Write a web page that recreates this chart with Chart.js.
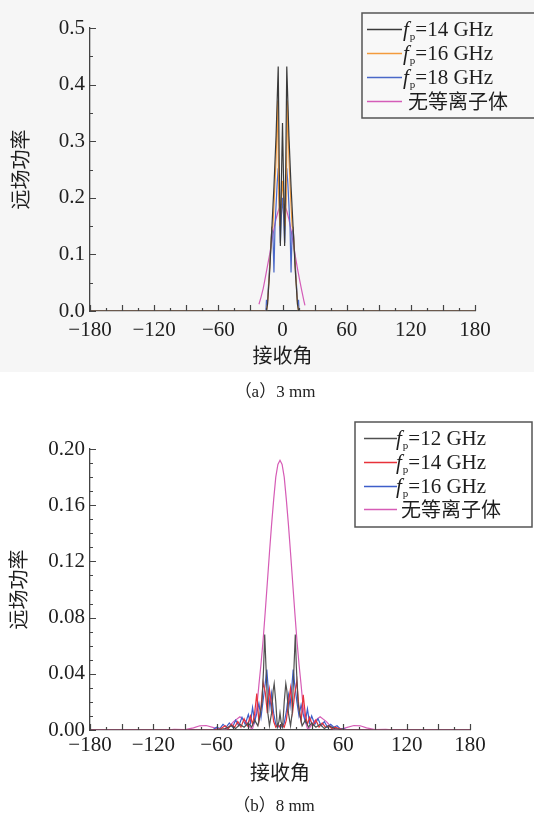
<!DOCTYPE html>
<html lang="zh">
<head>
<meta charset="utf-8">
<title>远场功率与接收角</title>
<script src="https://cdn.jsdelivr.net/npm/chart.js@4.4.1/dist/chart.umd.min.js"></script>
<style>
  html, body { margin: 0; padding: 0; background: #fff; }
  body { width: 534px; height: 816px; position: relative; overflow: hidden; }
  .panel { position: absolute; left: 0; width: 534px; }
  #panelA { top: 0; height: 372px; background: #f6f6f6; }
  #panelB { top: 400px; height: 416px; }
  .caption {
    position: absolute; width: 534px; text-align: center;
    font: 17px "Liberation Serif", "Noto Sans CJK SC", serif; color: #222;
  }
</style>
</head>
<body>
<div class="panel" id="panelA"><canvas id="chart3mm" width="534" height="372"></canvas></div>
<div class="panel" id="panelB"><canvas id="chart8mm" width="534" height="416"></canvas></div>
<div class="caption" style="left:8px; top:377px;">（a）3 mm</div>
<div class="caption" style="left:7px; top:791px;">（b）8 mm</div>

<script>
// ---- (a) 3 mm ----
const blk3Angle = [-180, -15, -14, -12, -10, -8, -6, -4, -3, -2, -1, 0, 1, 2, 3, 4, 6, 8, 10, 12, 14, 15, 180];
const blk3Power = [0, 0, 0.012, 0.07, 0.145, 0.22, 0.31, 0.432, 0.25, 0.115, 0.23, 0.332, 0.23, 0.115, 0.25, 0.432, 0.31, 0.22, 0.145, 0.07, 0.012, 0, 0];

const org3Angle = [-180, -15, -14, -12, -10, -9, -8, -6, -4.5, -3.5, -2.5, -1, 0, 1, 2.5, 3.5, 4.5, 6, 8, 9, 10, 12, 14, 15, 180];
const org3Power = [0, 0, 0.012, 0.075, 0.145, 0.15, 0.185, 0.27, 0.372, 0.2, 0.15, 0.2, 0.23, 0.2, 0.15, 0.2, 0.372, 0.27, 0.185, 0.15, 0.145, 0.075, 0.012, 0, 0];

const blu3Angle = [-180, -15.5, -15, -14.5, -14, -12, -10, -9, -8, -7, -5, -4, -3, -2, -1, 0, 1, 2, 3, 4, 5, 7, 8, 9, 10, 12, 14, 14.5, 15, 15.5, 180];
const blu3Power = [0, 0, 0.02, 0.01, 0.018, 0.08, 0.145, 0.14, 0.068, 0.15, 0.225, 0.252, 0.19, 0.12, 0.17, 0.2, 0.17, 0.12, 0.19, 0.252, 0.225, 0.15, 0.068, 0.14, 0.145, 0.08, 0.018, 0.01, 0.02, 0, 0];

const pk3Angle = [-22, -20, -18, -16, -14, -12, -10, -8, -6, -4, -2, 0, 2, 4, 6, 8, 10, 12, 14, 16, 18, 20, 21];
const pk3Power = [0.012, 0.025, 0.04, 0.06, 0.08, 0.1, 0.123, 0.145, 0.163, 0.177, 0.187, 0.19, 0.187, 0.177, 0.162, 0.143, 0.12, 0.097, 0.075, 0.055, 0.036, 0.018, 0.01];

// ---- (b) 8 mm ----
const blk8Angle = [-180, -60, -52, -46, -42, -38, -34, -30, -27, -24, -21, -19, -17, -15.5, -14.5, -13, -11.5, -10, -8, -6.5, -5.5, -4, -2.5, -1,
  0, 1, 2.5, 4, 5.5, 6.5, 8, 10, 11.5, 13, 14.5, 15.5, 17, 19, 21, 24, 27, 30, 34, 38, 42, 46, 52, 60, 180];
const blk8Power = [0, 0, 0.001, 0.003, 0.001, 0.004, 0.002, 0.005, 0.002, 0.007, 0.003, 0.01, 0.02, 0.045, 0.068, 0.04, 0.012, 0.003, 0.012, 0.028, 0.033, 0.02, 0.002, 0.006,
  0.012, 0.006, 0.002, 0.02, 0.033, 0.028, 0.012, 0.003, 0.012, 0.04, 0.068, 0.045, 0.02, 0.01, 0.003, 0.007, 0.002, 0.005, 0.002, 0.004, 0.001, 0.003, 0.001, 0, 0];

const red8Angle = [-180, -62, -56, -52, -49, -46, -43, -40, -37, -34, -31, -28, -26, -24, -22, -20, -18, -16, -14, -12, -10, -8, -6, -4, -2,
  0, 2, 4, 6, 8, 10, 12, 14, 16, 18, 20, 22, 24, 26, 28, 31, 34, 37, 40, 43, 46, 49, 52, 56, 62, 180];
const red8Power = [0, 0, 0.001, 0.003, 0.001, 0.004, 0.002, 0.006, 0.002, 0.008, 0.003, 0.01, 0.004, 0.012, 0.026, 0.006, 0.016, 0.034, 0.027, 0.012, 0.029, 0.018, 0.006, 0.002, 0.004,
  0.002, 0.004, 0.002, 0.007, 0.019, 0.03, 0.013, 0.026, 0.035, 0.015, 0.006, 0.025, 0.011, 0.004, 0.009, 0.003, 0.007, 0.002, 0.005, 0.002, 0.003, 0.001, 0.002, 0.001, 0, 0];

const blu8Angle = [-180, -64, -60, -57, -54, -51, -48, -45, -42, -39, -36, -33, -30, -28, -26, -24, -22, -20, -18, -16, -14, -12.5, -11, -9.5, -8, -6, -4, -2,
  0, 2, 4, 6, 8, 9.5, 11, 12.5, 14, 16, 18, 20, 22, 24, 26, 28, 30, 33, 36, 39, 42, 45, 48, 51, 54, 57, 60, 64, 180];
const blu8Power = [0, 0, 0.002, 0.001, 0.004, 0.002, 0.005, 0.002, 0.007, 0.003, 0.009, 0.004, 0.011, 0.005, 0.016, 0.006, 0.012, 0.019, 0.009, 0.021, 0.033, 0.043, 0.028, 0.016, 0.026, 0.012, 0.004, 0.002,
  0.003, 0.002, 0.005, 0.013, 0.025, 0.017, 0.029, 0.043, 0.032, 0.02, 0.01, 0.018, 0.011, 0.006, 0.015, 0.005, 0.01, 0.004, 0.008, 0.003, 0.006, 0.002, 0.004, 0.002, 0.003, 0.001, 0.001, 0, 0];

const pk8Angle = [-180, -110, -100, -90, -82, -76, -70, -62, -56, -50, -44, -38, -32, -28, -26, -24, -22, -20, -18, -16, -14, -12, -10, -8, -6, -4, -2,
  0, 2, 4, 6, 8, 10, 12, 14, 16, 18, 20, 22, 24, 26, 28, 32, 38, 44, 50, 56, 62, 70, 76, 82, 90, 100, 110, 180];
const pk8Power = [0, 0, 0.0005, 0.0003, 0.0015, 0.003, 0.0032, 0.0015, 0.0003, 0.001, 0.006, 0.0095, 0.006, 0.0015, 0.001, 0.006, 0.016, 0.032, 0.047, 0.064, 0.084, 0.105, 0.126, 0.146, 0.164, 0.18, 0.189,
  0.192, 0.189, 0.18, 0.164, 0.146, 0.126, 0.105, 0.084, 0.064, 0.047, 0.032, 0.016, 0.006, 0.001, 0.0015, 0.006, 0.0095, 0.006, 0.001, 0.0003, 0.0015, 0.0032, 0.003, 0.0015, 0.0003, 0.0005, 0, 0];

const labels3 = ['f_p=14 GHz', 'f_p=16 GHz', 'f_p=18 GHz', '无等离子体'];
const labels8 = ['f_p=12 GHz', 'f_p=14 GHz', 'f_p=16 GHz', '无等离子体'];

const SERIF = '"Liberation Serif", "Times New Roman", serif';
const CJK = '"Noto Sans CJK SC", sans-serif';
const INK = '#1e1e1e';
const AXIS = '#444';

const isMult = (v, m) => Math.abs(v / m - Math.round(v / m)) < 1e-6;
const fmtAngle = v => (v < 0 ? '\u2212' + Math.abs(v) : String(v));

// short tick marks pointing into the plot
const inwardTicks = {
  id: 'inwardTicks',
  afterDatasetsDraw(chart, args, opts) {
    const { ctx, chartArea, scales: { x, y } } = chart;
    ctx.save();
    ctx.strokeStyle = AXIS;
    ctx.lineWidth = 1.2;
    ctx.beginPath();
    x.ticks.forEach(t => {
      const px = Math.round(x.getPixelForValue(t.value)) + 0.5;
      const len = isMult(t.value, opts.xMajor) ? 6 : 3;
      ctx.moveTo(px, chartArea.bottom);
      ctx.lineTo(px, chartArea.bottom - len);
    });
    y.ticks.forEach(t => {
      const py = Math.round(y.getPixelForValue(t.value)) + 0.5;
      const len = isMult(t.value, opts.yMajor) ? 6 : 3;
      ctx.moveTo(chartArea.left, py);
      ctx.lineTo(chartArea.left + len, py);
    });
    ctx.stroke();
    ctx.restore();
  }
};

// boxed legend with f_p subscript labels
const boxLegend = {
  id: 'boxLegend',
  afterDraw(chart, args, opts) {
    const { ctx } = chart;
    const b = opts.box;
    ctx.save();
    ctx.fillStyle = opts.fill;
    ctx.fillRect(b.left, b.top, b.right - b.left, b.bottom - b.top);
    ctx.strokeStyle = '#555';
    ctx.lineWidth = 1.5;
    ctx.strokeRect(b.left, b.top, b.right - b.left, b.bottom - b.top);
    chart.data.datasets.forEach((ds, i) => {
      const y = opts.rows[i];
      ctx.strokeStyle = ds.borderColor;
      ctx.lineWidth = 1.5;
      ctx.beginPath();
      ctx.moveTo(opts.lineFrom, y + 0.5);
      ctx.lineTo(opts.lineTo, y + 0.5);
      ctx.stroke();
      ctx.fillStyle = INK;
      if (ds.label.startsWith('f_p')) {
        let x = opts.textX;
        const base = y + 7;
        ctx.textBaseline = 'alphabetic';
        ctx.textAlign = 'left';
        ctx.font = 'italic 21px ' + SERIF;
        ctx.fillText('f', x, base);
        x += ctx.measureText('f').width + 1;
        ctx.font = '11px ' + SERIF;
        ctx.fillText('p', x, base + 4);
        x += ctx.measureText('p').width;
        ctx.font = '21px ' + SERIF;
        ctx.fillText(ds.label.slice(3), x, base);
      } else {
        ctx.textBaseline = 'middle';
        ctx.textAlign = 'left';
        ctx.font = '20px ' + CJK;
        ctx.fillText(ds.label, opts.cjkX, y);
      }
    });
    ctx.restore();
  }
};

function line(label, xs, ys, color) {
  return {
    label,
    data: xs.map((a, i) => ({ x: a, y: ys[i] })),
    showLine: true,
    borderColor: color,
    borderWidth: 1.2,
    pointRadius: 0,
    tension: 0,
    fill: false
  };
}

function makeChart(id, cfg) {
  return new Chart(document.getElementById(id), {
    type: 'scatter',
    data: { datasets: cfg.datasets },
    options: {
      responsive: false,
      animation: false,
      layout: { padding: cfg.padding },
      plugins: {
        legend: { display: false },
        tooltip: { enabled: false },
        boxLegend: cfg.legend,
        inwardTicks: cfg.tickMarks
      },
      scales: {
        x: {
          type: 'linear',
          min: -180,
          max: 180,
          afterFit: s => { s.height = cfg.xAxisHeight; },
          grid: { display: false, drawTicks: false },
          border: { display: true, color: AXIS, width: 1.3 },
          ticks: {
            stepSize: 15,
            maxTicksLimit: 100,
            autoSkip: false,
            maxRotation: 0,
            padding: cfg.xTickPad,
            color: INK,
            font: { family: SERIF, size: 21 },
            callback: v => (isMult(v, 60) ? fmtAngle(v) : '')
          },
          title: {
            display: true,
            text: '接收角',
            color: INK,
            font: { family: CJK, size: 20 },
            padding: { top: 0, bottom: cfg.xTitlePad }
          }
        },
        y: {
          min: 0,
          max: cfg.yMax,
          afterFit: s => { s.width = cfg.yAxisWidth; },
          grid: { display: false, drawTicks: false },
          border: { display: true, color: AXIS, width: 1.3 },
          ticks: {
            stepSize: cfg.yStep,
            maxTicksLimit: 100,
            autoSkip: false,
            padding: 5,
            color: INK,
            font: { family: SERIF, size: 21 },
            callback: v => (isMult(v, cfg.yLabelEvery) ? v.toFixed(cfg.yDigits) : '')
          },
          title: {
            display: true,
            text: '远场功率',
            color: INK,
            font: { family: CJK, size: 20 },
            padding: { top: cfg.yTitlePad, bottom: 0 }
          }
        }
      }
    },
    plugins: [inwardTicks, boxLegend]
  });
}

makeChart('chart3mm', {
  datasets: [
    line(labels3[0], blk3Angle, blk3Power, '#3a3a3a'),
    line(labels3[1], org3Angle, org3Power, '#f39a3c'),
    line(labels3[2], blu3Angle, blu3Power, '#4a68c8'),
    line(labels3[3], pk3Angle, pk3Power, '#d45cb8')
  ],
  padding: { top: 28, right: 59, bottom: 0, left: 0 },
  xAxisHeight: 61,
  yAxisWidth: 90,
  xTickPad: 7,
  xTitlePad: 5,
  yTitlePad: 8,
  yMax: 0.5,
  yStep: 0.05,
  yLabelEvery: 0.1,
  yDigits: 1,
  tickMarks: { xMajor: 30, yMajor: 0.1 },
  legend: {
    box: { left: 362, top: 13, right: 545, bottom: 118 },
    fill: '#f8f8f8',
    rows: [29, 53, 77, 101],
    lineFrom: 367,
    lineTo: 402,
    textX: 403,
    cjkX: 408
  }
});

makeChart('chart8mm', {
  datasets: [
    line(labels8[0], blk8Angle, blk8Power, '#505050'),
    line(labels8[1], red8Angle, red8Power, '#e8323a'),
    line(labels8[2], blu8Angle, blu8Power, '#3d5ec9'),
    line(labels8[3], pk8Angle, pk8Power, '#d65cb6')
  ],
  padding: { top: 49, right: 64, bottom: 0, left: 0 },
  xAxisHeight: 86,
  yAxisWidth: 90,
  xTickPad: 3,
  xTitlePad: 32,
  yTitlePad: 6,
  yMax: 0.2,
  yStep: 0.01,
  yLabelEvery: 0.04,
  yDigits: 2,
  tickMarks: { xMajor: 30, yMajor: 0.04 },
  legend: {
    box: { left: 355, top: 22, right: 532, bottom: 127 },
    fill: '#ffffff',
    rows: [38, 62, 86, 109],
    lineFrom: 364,
    lineTo: 397,
    textX: 396,
    cjkX: 401
  }
});
</script>
</body>
</html>
